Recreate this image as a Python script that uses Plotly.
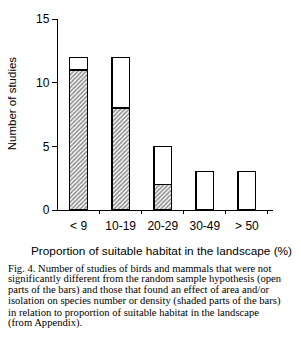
import plotly.graph_objects as go

categories = ["< 9", "10-19", "20-29", "30-49", "> 50"]
shaded = [11, 8, 2, 0, 0]   # effect of area and/or isolation found
open_part = [1, 4, 3, 3, 3]  # not different from random sample hypothesis
y_ticks = [0, 5, 10, 15]

caption_lines = [
    "Fig. 4. Number of studies of birds and mammals that were not",
    "significantly different from the random sample hypothesis (open",
    "parts of the bars) and those that found an effect of area and/or",
    "isolation on species number or density (shaded parts of the bars)",
    "in relation to proportion of suitable habitat in the landscape",
    "(from Appendix).",
]

W, H = 301, 343
L, R, T, B = 58, 28, 15, 133
plot_h = H - T - B

fig = go.Figure()
fig.add_trace(go.Bar(
    x=categories, y=shaded, width=0.42,
    marker=dict(color="white", line=dict(color="black", width=1.3),
                pattern=dict(shape="/", fgcolor="#222", bgcolor="white", size=3, solidity=0.55)),
    showlegend=False,
))
fig.add_trace(go.Bar(
    x=categories, y=open_part, width=0.42,
    marker=dict(color="white", line=dict(color="black", width=1.3)),
    showlegend=False,
))

fig.update_layout(
    barmode="stack",
    width=W, height=H,
    margin=dict(l=L, r=R, t=T, b=B, pad=0),
    paper_bgcolor="white", plot_bgcolor="white",
    font=dict(family="Liberation Sans, Arial, sans-serif", color="black", size=12),
    xaxis=dict(
        type="category", range=[-0.49, 4.62],
        showline=True, linecolor="black", linewidth=1.3,
        ticks="outside", tickson="boundaries", ticklen=3, tickcolor="black", tickwidth=1,
        showgrid=False, zeroline=False,
        tickfont=dict(size=12), ticklabelstandoff=4,
    ),
    yaxis=dict(
        range=[0, 15], tickvals=y_ticks,
        showline=True, linecolor="black", linewidth=1.3,
        ticks="outside", ticklen=5, tickcolor="black", tickwidth=1,
        showgrid=False, zeroline=False,
        tickfont=dict(size=12),
    ),
)

def py2paper(py):
    return (H - B - py) / plot_h

def px2paper(px):
    return (px - L) / (W - L - R)

fig.add_annotation(
    text="Number of studies", textangle=-90,
    x=px2paper(12), y=py2paper(101), xref="paper", yref="paper",
    showarrow=False, xanchor="center", yanchor="middle",
    font=dict(size=11.5),
)
fig.add_annotation(
    text="Proportion of suitable habitat in the landscape (%)",
    x=px2paper(161.5), y=py2paper(252), xref="paper", yref="paper",
    showarrow=False, xanchor="center", yanchor="middle",
    font=dict(size=11.8),
)

centers = [269.5, 280.7, 291.9, 303.1, 314.3, 325.5]
for line, cy in zip(caption_lines, centers):
    fig.add_annotation(
        text=line, x=px2paper(7), y=py2paper(cy), xref="paper", yref="paper",
        showarrow=False, xanchor="left", yanchor="middle", borderpad=0,
        font=dict(family="Liberation Serif, Times New Roman, serif", size=10.6),
    )

fig.write_html("out.html")
